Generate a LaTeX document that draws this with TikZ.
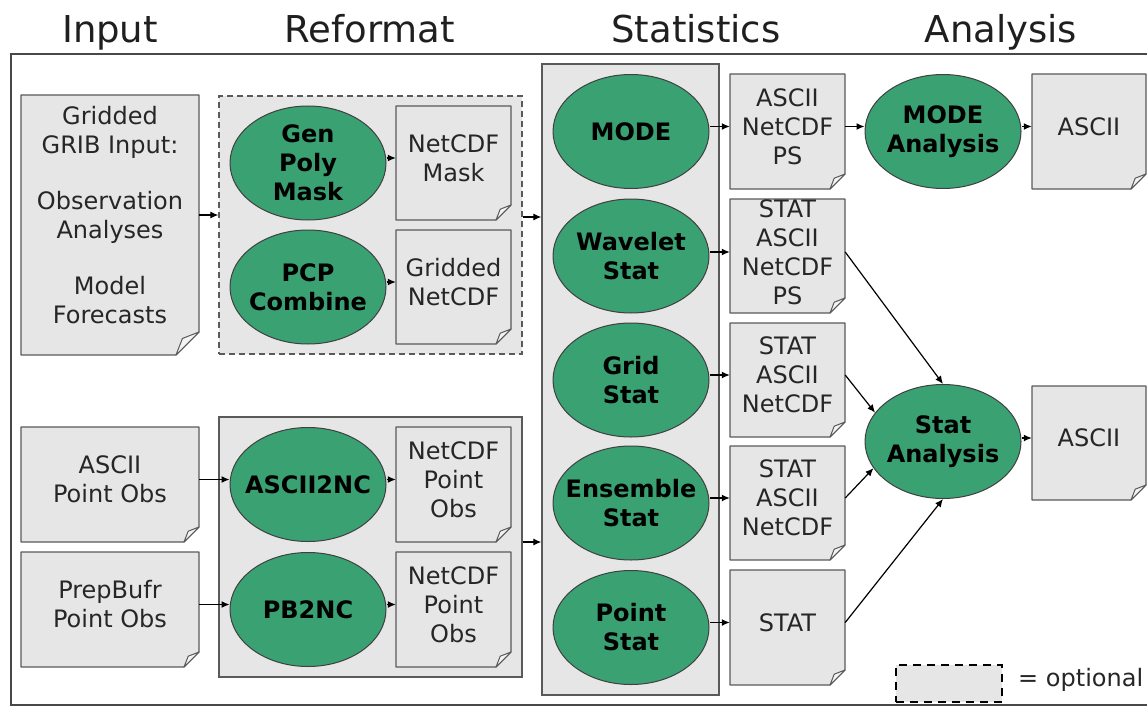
\documentclass[tikz,border=0pt]{standalone}
\usepackage{fontspec}
\setmainfont{DejaVu Sans}
\usetikzlibrary{shapes.geometric,arrows.meta}

\definecolor{toolgreen}{RGB}{58,161,115}
\definecolor{docgray}{RGB}{230,230,230}
\definecolor{edgegray}{RGB}{90,90,90}

% paper sheet with a turned-down corner: [fold]{name}{x}{y}{w}{h}{lift}{text}
\newcommand{\paperdoc}[8][15]{%
  \filldraw[docsheet] ({#3-#5/2},{#4-#6/2}) -- ({#3+#5/2},{#4-#6/2})
    -- ({#3+#5/2},{#4+#6/2-#1}) -- ({#3+#5/2-#1},{#4+#6/2}) -- ({#3-#5/2},{#4+#6/2}) -- cycle;
  \filldraw[docfold] ({#3+#5/2},{#4+#6/2-#1}) -- ({#3+#5/2-#1},{#4+#6/2})
    -- ({#3+#5/2-0.72*#1},{#4+#6/2-0.72*#1}) -- cycle;
  \node[doctext,minimum width=#5pt,minimum height=#6pt] (#2) at (#3,{#4-#7}) {#8};}

\begin{document}
\fontsize{24}{29}\selectfont
\begin{tikzpicture}[x=1pt,y=-1pt,>={Latex[length=8pt,width=7pt]},
  tool/.style={ellipse,draw=black!75,line width=1pt,fill=toolgreen,
    minimum width=156pt,minimum height=114pt,inner xsep=-25pt,inner ysep=-8pt,
    align=center,font=\bfseries,text=black},
  docsheet/.style={draw=edgegray,line width=1.2pt,fill=docgray,line join=round},
  docfold/.style={draw=edgegray,line width=1pt,fill=white!55!docgray,line join=round},
  doctext/.style={rectangle,inner sep=0pt,align=center,text=black!85},
  group/.style={rectangle,draw=edgegray,line width=1.3pt,fill=docgray},
  title/.style={font=\fontsize{37}{44}\selectfont,text=black!88,anchor=base},
  flow/.style={->,line width=1.2pt}]
  \useasboundingbox (0,0) rectangle (1147,706);

  % column titles and frame
  \node[title] (t-input) at (110,43) {Input};
  \node[title] (t-reformat) at (370,43) {Reformat};
  \node[title] (t-stats) at (696,43) {Statistics};
  \node[title] (t-analysis) at (1001,43) {Analysis};
  \draw[edgegray!80!black,line width=2pt] (11,54) rectangle (1170,705);

  % group boxes
  \node[group,dashed,dash pattern=on 6pt off 4pt,minimum width=303pt,minimum height=258pt] (optbox) at (370.5,225) {};
  \node[group,minimum width=303pt,minimum height=260pt] (ptbox) at (370.5,547) {};
  \node[group,minimum width=177pt,minimum height=631pt] (statbox) at (630.5,379.5) {};

  % input
  \paperdoc[23]{gridded}{110}{225}{178}{260}{10}{Gridded\\GRIB Input:\\[27pt]Observation\\Analyses\\[27pt]Model\\Forecasts}
  \paperdoc{asciiobs}{110}{484.5}{178}{115}{5}{ASCII\\Point Obs}
  \paperdoc{bufrobs}{110}{609.5}{178}{115}{5}{PrepBufr\\Point Obs}

  % reformat
  \node[tool] (genpoly) at (308,163) {Gen\\Poly\\Mask};
  \node[tool] (pcp) at (308,287) {PCP\\Combine};
  \node[tool] (ascii2nc) at (308,484.5) {ASCII2NC};
  \node[tool] (pb2nc) at (308,609.5) {PB2NC};
  \paperdoc{maskdoc}{453.5}{163}{115}{114}{5}{NetCDF\\Mask}
  \paperdoc{pcpdoc}{453.5}{287}{115}{114}{5}{Gridded\\NetCDF}
  \paperdoc{ascdoc}{453.5}{484.5}{115}{115}{5}{NetCDF\\Point\\Obs}
  \paperdoc{pbdoc}{453.5}{609.5}{115}{115}{5}{NetCDF\\Point\\Obs}

  % statistics
  \node[tool] (mode) at (631,131.5) {MODE};
  \node[tool] (wavelet) at (631,256) {Wavelet\\Stat};
  \node[tool] (gridstat) at (631,380) {Grid\\Stat};
  \node[tool] (ensstat) at (631,503) {Ensemble\\Stat};
  \node[tool] (pointstat) at (631,627.5) {Point\\Stat};
  \paperdoc{modedoc}{787.5}{131.5}{115}{115}{5}{ASCII\\NetCDF\\PS}
  \paperdoc{wavdoc}{787.5}{256}{115}{114}{4}{STAT\\ASCII\\NetCDF\\PS}
  \paperdoc{griddoc}{787.5}{380}{115}{114}{5}{STAT\\ASCII\\NetCDF}
  \paperdoc{ensdoc}{787.5}{503}{115}{114}{5}{STAT\\ASCII\\NetCDF}
  \paperdoc{ptdoc}{787.5}{627.5}{115}{115}{5}{STAT}

  % analysis
  \node[tool] (modeana) at (943,131.5) {MODE\\Analysis};
  \node[tool] (statana) at (943,441.5) {Stat\\Analysis};
  \paperdoc{modeout}{1089}{131.5}{114}{115}{5}{ASCII}
  \paperdoc{statout}{1089}{443}{114}{114}{5}{ASCII}

  % legend
  \node[rectangle,draw=black,fill=docgray,line width=2.5pt,dash pattern=on 8pt off 6pt,
    minimum width=106pt,minimum height=37pt] (legbox) at (949,683.5) {};
  \node[anchor=west,text=black!85] (legtext) at (1010,680) {= optional};

  % connectors
  \draw[flow] (gridded) -- (gridded -| optbox.west);
  \draw[flow] (asciiobs) -- (asciiobs -| ascii2nc.west);
  \draw[flow] (bufrobs) -- (bufrobs -| pb2nc.west);
  \draw[flow] (maskdoc -| genpoly.east) -- (maskdoc);
  \draw[flow] (pcpdoc -| pcp.east) -- (pcpdoc);
  \draw[flow] (ascdoc -| ascii2nc.east) -- (ascdoc);
  \draw[flow] (pbdoc -| pb2nc.east) -- (pbdoc);
  \draw[flow] ([yshift=8pt]optbox.east) -- ([yshift=8pt]optbox.east -| statbox.west);
  \draw[flow] ([yshift=5pt]ptbox.east) -- ([yshift=5pt]ptbox.east -| statbox.west);
  \draw[flow] (modedoc -| mode.east) -- (modedoc);
  \draw[flow] (wavdoc -| wavelet.east) -- (wavdoc);
  \draw[flow] (griddoc -| gridstat.east) -- (griddoc);
  \draw[flow] (ensdoc -| ensstat.east) -- (ensdoc);
  \draw[flow] (ptdoc -| pointstat.east) -- (ptdoc);
  \draw[flow] (modedoc) -- (modedoc -| modeana.west);
  \draw[flow] (modeout -| modeana.east) -- (modeout);
  \draw[flow] (wavdoc.east) -- (statana.north);
  \draw[flow] (griddoc.east) -- (statana.157);
  \draw[flow] (ensdoc.east) -- (statana.201);
  \draw[flow] (ptdoc.east) -- (statana.south);
  \draw[flow] (statout -| statana.east) -- (statout);
\end{tikzpicture}
\end{document}
